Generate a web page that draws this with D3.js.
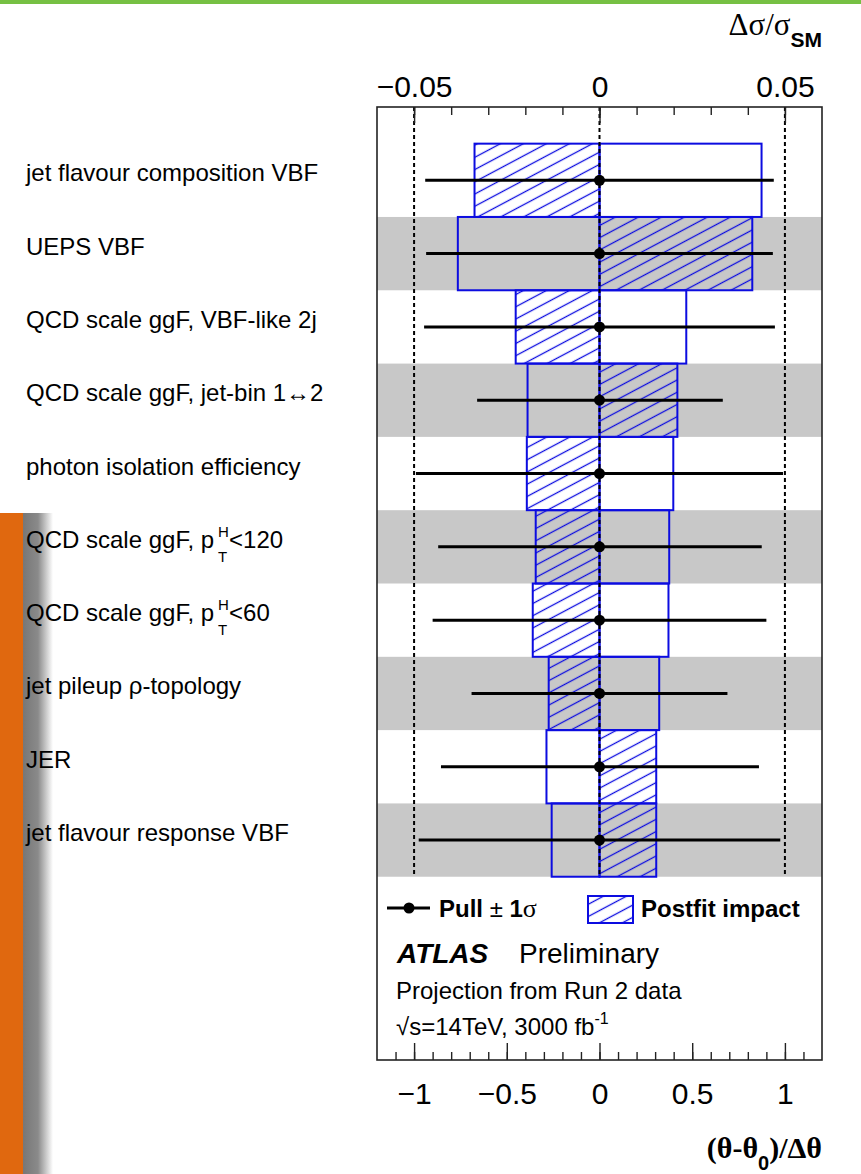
<!DOCTYPE html>
<html>
<head>
<meta charset="utf-8">
<script src="https://cdn.jsdelivr.net/npm/d3@7"></script>
<style>
  html, body { margin: 0; padding: 0; background: #fff; }
  svg { display: block; }
  text { font-family: "Liberation Sans", Arial, Helvetica, sans-serif; fill: #000; }
  .greek { font-family: "Liberation Serif", "Times New Roman", serif; }
</style>
</head>
<body>
<svg id="chart" width="861" height="1174"></svg>
<script>
// ---------------- data ----------------
const parameters = [
  "jet flavour composition VBF",
  "UEPS VBF",
  "QCD scale ggF, VBF-like 2j",
  "QCD scale ggF, jet-bin 1\u21942",
  "photon isolation efficiency",
  "QCD scale ggF, p_T^H<120",
  "QCD scale ggF, p_T^H<60",
  "jet pileup \u03c1-topology",
  "JER",
  "jet flavour response VBF"
];
const pullValue   = [0, 0, 0, 0, 0, 0, 0, 0, 0, 0];
const pullErrLow  = [-0.94, -0.935, -0.946, -0.66, -0.99, -0.87, -0.90, -0.69, -0.855, -0.975];
const pullErrHigh = [0.94, 0.935, 0.946, 0.665, 0.99, 0.875, 0.90, 0.69, 0.86, 0.975];
// postfit impact on delta sigma / sigma_SM
const impactHatched = [-0.0337, 0.0412, -0.0226, 0.0210, -0.0196, -0.0172, -0.0180, -0.0137, 0.0153, 0.0153];
const impactOpen    = [0.0437, -0.0382, 0.0234, -0.0194, 0.0199, 0.0188, 0.0186, 0.0161, -0.0143, -0.0129];

const bottomTicksMajor = [-1, -0.5, 0, 0.5, 1];
const bottomTickLabels = ["\u22121", "\u22120.5", "0", "0.5", "1"];
const topTicksMajor = [-0.05, 0, 0.05];
const topTickLabels = ["\u22120.05", "0", "0.05"];
const refLines = [-1, 0, 1];

// ---------------- layout ----------------
const svg = d3.select("#chart");
const L = 377, R = 822, T = 107, B = 1060;
const x = d3.scaleLinear().domain([-1.2, 1.2]).range([L, R]);
const xTop = d3.scaleLinear().domain([-0.06, 0.06]).range([L, R]);
const y = d3.scaleLinear().domain([-1, 12]).range([T, B]);
const BLUE = "#0c0ce0";

const defs = svg.append("defs");
const pat = defs.append("pattern").attr("id", "hatch")
  .attr("patternUnits", "userSpaceOnUse").attr("width", 20).attr("height", 10.8)
  .attr("patternTransform", "rotate(-28)");
pat.append("line").attr("x1", 0).attr("x2", 20).attr("y1", 5.4).attr("y2", 5.4)
  .attr("stroke", BLUE).attr("stroke-width", 1.3);
const grad = defs.append("linearGradient").attr("id", "shade")
  .attr("x1", 0).attr("x2", 1).attr("y1", 0).attr("y2", 0);
grad.append("stop").attr("offset", 0).attr("stop-color", "#777777");
grad.append("stop").attr("offset", 0.5).attr("stop-color", "#8a8a8a");
grad.append("stop").attr("offset", 1).attr("stop-color", "#ffffff");

// slide decorations
svg.append("rect").attr("x", 0).attr("y", 0).attr("width", 861).attr("height", 4).attr("fill", "#76c043");
svg.append("rect").attr("x", 23).attr("y", 513).attr("width", 30).attr("height", 661).attr("fill", "url(#shade)");
svg.append("rect").attr("x", 0).attr("y", 513).attr("width", 23).attr("height", 661).attr("fill", "#e0680f");

const idx = d3.range(parameters.length);

// alternating bands
svg.append("g").selectAll("rect").data(idx.filter(i => i % 2 === 1)).join("rect")
  .attr("x", L).attr("width", R - L)
  .attr("y", i => y(i - 0.5)).attr("height", i => y(i + 0.5) - y(i - 0.5))
  .attr("fill", "#c8c8c8");

// impact boxes
function boxes(vals, hatched) {
  svg.append("g").selectAll("rect").data(idx).join("rect")
    .attr("x", i => Math.min(xTop(0), xTop(vals[i])))
    .attr("width", i => Math.abs(xTop(vals[i]) - xTop(0)))
    .attr("y", i => y(i - 0.5)).attr("height", i => y(i + 0.5) - y(i - 0.5))
    .attr("fill", hatched ? "url(#hatch)" : "none")
    .attr("stroke", BLUE).attr("stroke-width", 2);
}
boxes(impactOpen, false);
boxes(impactHatched, true);

// reference dashed lines
svg.append("g").selectAll("line").data(refLines).join("line")
  .attr("x1", d => x(d)).attr("x2", d => x(d))
  .attr("y1", T).attr("y2", y(parameters.length - 0.5))
  .attr("stroke", "#000").attr("stroke-width", 2).attr("stroke-dasharray", "4,3");

// pulls
svg.append("g").selectAll("line").data(idx).join("line")
  .attr("x1", i => x(pullValue[i] + pullErrLow[i])).attr("x2", i => x(pullValue[i] + pullErrHigh[i]))
  .attr("y1", i => y(i)).attr("y2", i => y(i))
  .attr("stroke", "#000").attr("stroke-width", 3);
svg.append("g").selectAll("circle").data(idx).join("circle")
  .attr("cx", i => x(pullValue[i])).attr("cy", i => y(i)).attr("r", 5.5).attr("fill", "#000");

// frame
svg.append("rect").attr("x", L).attr("y", T).attr("width", R - L).attr("height", B - T)
  .attr("fill", "none").attr("stroke", "#222").attr("stroke-width", 1.6);

// bottom axis
const gB = svg.append("g").attr("transform", `translate(0,${B})`);
gB.call(d3.axisBottom(x).tickValues(d3.range(-11, 12).map(v => v / 10)).tickSize(-8).tickSizeOuter(0).tickFormat(""));
gB.append("g").call(d3.axisBottom(x).tickValues(bottomTicksMajor).tickSize(-17).tickSizeOuter(0).tickPadding(23)
  .tickFormat((d, i) => bottomTickLabels[i]));
gB.selectAll(".domain").remove();
gB.selectAll("line").attr("stroke", "#222").attr("stroke-width", 1.4);
gB.selectAll("text").attr("font-size", 30).attr("font-family", "Liberation Sans, Arial, sans-serif").attr("fill", "#000");

// top axis
const gT = svg.append("g").attr("transform", `translate(0,${T})`);
gT.call(d3.axisTop(xTop).tickValues(d3.range(-5, 6).map(v => v / 100)).tickSize(-8).tickSizeOuter(0).tickFormat(""));
gT.append("g").call(d3.axisTop(xTop).tickValues(topTicksMajor).tickSize(-16).tickSizeOuter(0).tickPadding(10)
  .tickFormat((d, i) => topTickLabels[i]));
gT.selectAll(".domain").remove();
gT.selectAll("line").attr("stroke", "#222").attr("stroke-width", 1.4);
gT.selectAll("text").attr("font-size", 30).attr("font-family", "Liberation Sans, Arial, sans-serif").attr("fill", "#000");

// axis titles
const tt = svg.append("text").attr("x", 822).attr("y", 35).attr("text-anchor", "end").attr("font-size", 31);
tt.append("tspan").attr("class", "greek").text("\u0394\u03c3/\u03c3");
tt.append("tspan").attr("font-size", 21).attr("font-weight", "bold").attr("dy", 12).text("SM");
const bt = svg.append("text").attr("x", 822).attr("y", 1158).attr("text-anchor", "end").attr("font-size", 30).attr("font-weight", "bold");
bt.append("tspan").attr("class", "greek").text("(\u03b8-\u03b8");
bt.append("tspan").attr("font-size", 20).attr("dy", 12).text("0");
bt.append("tspan").attr("class", "greek").attr("dy", -12).text(")/\u0394\u03b8");

// parameter labels
const LX = 26, FS = 24;
idx.forEach(i => {
  const s = parameters[i];
  const by = y(i) + 1;
  const m = s.match(/^(.*)_(\w)\^(\w)(.*)$/);
  if (!m) {
    svg.append("text").attr("x", LX).attr("y", by).attr("font-size", FS).attr("fill", "#111").text(s);
  } else {
    const t1 = svg.append("text").attr("x", LX).attr("y", by).attr("font-size", FS).attr("fill", "#111").text(m[1]);
    const w1 = t1.node().getComputedTextLength();
    const xs = LX + w1 + 4;
    svg.append("text").attr("x", xs).attr("y", by - 11).attr("font-size", 15).attr("fill", "#111").text(m[3]);
    svg.append("text").attr("x", xs).attr("y", by + 14).attr("font-size", 15).attr("fill", "#111").text(m[2]);
    svg.append("text").attr("x", xs + 11).attr("y", by).attr("font-size", FS).attr("fill", "#111").text(m[4]);
  }
});

// legend
const ly = 908;
svg.append("line").attr("x1", 387).attr("x2", 430).attr("y1", ly).attr("y2", ly).attr("stroke", "#000").attr("stroke-width", 3);
svg.append("circle").attr("cx", 409).attr("cy", ly).attr("r", 5.5).attr("fill", "#000");
const lt = svg.append("text").attr("x", 439).attr("y", 917).attr("font-size", 24).attr("font-weight", "bold");
lt.append("tspan").text("Pull ");
lt.append("tspan").attr("font-weight", "normal").text("\u00b1");
lt.append("tspan").text(" 1");
lt.append("tspan").attr("class", "greek").attr("font-weight", "normal").attr("font-size", 26).text("\u03c3");
svg.append("rect").attr("x", 588).attr("y", 896).attr("width", 45).attr("height", 27)
  .attr("fill", "url(#hatch)").attr("stroke", BLUE).attr("stroke-width", 2);
svg.append("text").attr("x", 641).attr("y", 917).attr("font-size", 24).attr("font-weight", "bold").text("Postfit impact");

svg.append("text").attr("x", 397).attr("y", 963).attr("font-size", 28).attr("font-weight", "bold").attr("font-style", "italic").text("ATLAS");
svg.append("text").attr("x", 519).attr("y", 963).attr("font-size", 28).text("Preliminary");
svg.append("text").attr("x", 396).attr("y", 999).attr("font-size", 24).text("Projection from Run 2 data");
const st = svg.append("text").attr("x", 396).attr("y", 1035).attr("font-size", 24);
st.append("tspan").text("\u221as=14TeV, 3000 fb");
st.append("tspan").attr("font-size", 16).attr("dy", -11).text("-1");
</script>
</body>
</html>
